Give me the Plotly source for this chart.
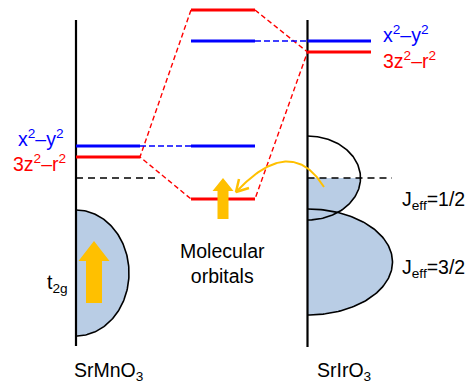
import numpy as np
import plotly.graph_objects as go

# ---------------- data (energies given as picture rows; larger row = lower energy) ----------------
mn_eg_labels = ["x<sup>2</sup>–y<sup>2</sup>", "3z<sup>2</sup>–r<sup>2</sup>"]
mn_eg_energy = [146, 157]           # SrMnO3 eg levels: x2-y2, 3z2-r2
ir_eg_energy = [41, 52]             # SrIrO3 eg levels: x2-y2, 3z2-r2
mo_energy = [10, 41, 146, 199]      # molecular orbitals: antibonding 3z2, x2-y2(Ir), x2-y2(Mn), bonding 3z2
fermi_level = 178
t2g_band = [210, 336]               # SrMnO3 t2g band: top, bottom
jeff12_band = [136, 220]            # SrIrO3 Jeff=1/2 band: top, bottom
jeff32_band = [209, 315]            # SrIrO3 Jeff=3/2 band: top, bottom
band_labels = ["t<sub>2g</sub>", "J<sub>eff</sub>=1/2", "J<sub>eff</sub>=3/2"]
column_labels = ["SrMnO<sub>3</sub>", "Molecular<br>orbitals", "SrIrO<sub>3</sub>"]

# ---------------- layout constants ----------------
MN_X, MN_END = 76, 140
MO_X0, MO_X1 = 191, 255
IR_X, IR_END = 307.5, 371
AX_TOP, AX_BOT = 20, 346
T2G_W, J12_W, J32_W = 53, 53, 85

BLUE, RED, YEL, FILLC = "#0000FF", "#FF0000", "#FFC000", "#B9CDE5"
FONT = "Liberation Sans, Arial, sans-serif"

fig = go.Figure()


def line(xs, ys, color, width, dash="solid"):
    fig.add_trace(go.Scatter(x=xs, y=ys, mode="lines", hoverinfo="skip",
                             line=dict(color=color, width=width, dash=dash)))


def half_ellipse(x0, band, a, t0=-np.pi / 2):
    yc = (band[0] + band[1]) / 2
    b = (band[1] - band[0]) / 2
    t = np.linspace(t0, np.pi / 2, 120)
    return x0 + a * np.cos(t), yc + b * np.sin(t)


def fill(x0, xs, ys):
    fig.add_trace(go.Scatter(x=np.concatenate([[x0], xs, [x0]]),
                             y=np.concatenate([[ys[0]], ys, [ys[-1]]]), mode="lines",
                             fill="toself", fillcolor=FILLC, line=dict(width=0), hoverinfo="skip"))


# band fills
ex, ey = half_ellipse(MN_X, t2g_band, T2G_W)
fill(MN_X, ex, ey)
ex, ey = half_ellipse(IR_X, jeff32_band, J32_W)
fill(IR_X, ex, ey)
yc12 = (jeff12_band[0] + jeff12_band[1]) / 2
b12 = (jeff12_band[1] - jeff12_band[0]) / 2
ex, ey = half_ellipse(IR_X, jeff12_band, J12_W, np.arcsin((fermi_level - yc12) / b12))
fill(IR_X, ex, ey)

# band outlines
for x0, band, w in [(MN_X, t2g_band, T2G_W), (IR_X, jeff32_band, J32_W), (IR_X, jeff12_band, J12_W)]:
    ex, ey = half_ellipse(x0, band, w)
    line(ex, ey, "black", 1.6)

# vertical axes
line([MN_X, MN_X], [AX_TOP, AX_BOT], "black", 2.2)
line([IR_X, IR_X], [AX_TOP, AX_BOT + 1], "black", 2.2)

# Fermi level
line([MN_X, 160], [fermi_level, fermi_level], "black", 1.4, "7px,5px")
line([IR_X, 392], [fermi_level, fermi_level], "black", 1.4, "7px,5px")

# red dashed correlation lines (3z2-r2)
line([MO_X0, MN_END, MO_X0], [mo_energy[0], mn_eg_energy[1], mo_energy[3]], RED, 1.4, "5px,3px")
line([MO_X1, IR_X, MO_X1], [mo_energy[0], ir_eg_energy[1], mo_energy[3]], RED, 1.4, "5px,3px")
# blue dashed correlation lines (x2-y2)
line([MN_END, MO_X0], [mn_eg_energy[0], mo_energy[2]], BLUE, 1.4, "6px,3px")
line([MO_X1, IR_X], [mo_energy[1], ir_eg_energy[0]], BLUE, 1.4, "6px,3px")

# levels
line([MN_X, MN_END], [mn_eg_energy[0]] * 2, BLUE, 3)
line([MN_X, MN_END], [mn_eg_energy[1]] * 2, RED, 3)
line([IR_X, IR_END], [ir_eg_energy[0]] * 2, BLUE, 3)
line([IR_X, IR_END], [ir_eg_energy[1]] * 2, RED, 3)
for e, c in zip(mo_energy, [RED, BLUE, BLUE, RED]):
    line([MO_X0, MO_X1], [e, e], c, 3)


# yellow block arrows
def block_arrow(cx, bottom, top, sw, hw, hl):
    xs = [cx - sw, cx - sw, cx - hw, cx, cx + hw, cx + sw, cx + sw, cx - sw]
    ys = [bottom, top + hl, top + hl, top, top + hl, top + hl, bottom, bottom]
    fig.add_trace(go.Scatter(x=xs, y=ys, mode="lines", fill="toself", fillcolor=YEL,
                             line=dict(width=0, color=YEL), hoverinfo="skip"))


block_arrow(94, 303, 241, 8, 15.5, 20)
block_arrow(223, 219, 178, 5.5, 10.5, 13)

# curved charge-transfer arrow
p0, p1, p2 = np.array([324, 187]), np.array([291, 134]), np.array([237, 191])
t = np.linspace(0, 1, 80)[:, None]
curve = (1 - t) ** 2 * p0 + 2 * (1 - t) * t * p1 + t ** 2 * p2
line(curve[:, 0], curve[:, 1], YEL, 2)
line([239, 236, 249], [179, 192, 188], YEL, 2.5)

# text
ann = []


def txt(x, y, s, color="black", xanchor="center", size=19.5):
    ann.append(dict(x=x, y=y, text=s, showarrow=False, xanchor=xanchor, yanchor="middle",
                    font=dict(family=FONT, size=size, color=color)))


txt(66, 138, mn_eg_labels[0], BLUE, "right")
txt(68, 163, mn_eg_labels[1], RED, "right")
txt(381, 34, mn_eg_labels[0], BLUE, "left")
txt(381, 60, mn_eg_labels[1], RED, "left")
txt(70, 283, band_labels[0], "black", "right")
txt(400, 200, band_labels[1], "black", "left")
txt(400, 268, band_labels[2], "black", "left")
txt(108, 371, column_labels[0])
txt(222, 263, column_labels[1])
txt(344, 371, column_labels[2])

fig.update_layout(
    width=471, height=385, margin=dict(l=0, r=0, t=0, b=0),
    paper_bgcolor="white", plot_bgcolor="white", showlegend=False,
    xaxis=dict(range=[0, 471], visible=False, fixedrange=True),
    yaxis=dict(range=[385, 0], visible=False, fixedrange=True),
    annotations=ann, hovermode=False,
)
fig.write_html("out.html", config=dict(displayModeBar=False),
               post_script="document.body.style.margin='0';document.body.style.overflow='hidden';")
